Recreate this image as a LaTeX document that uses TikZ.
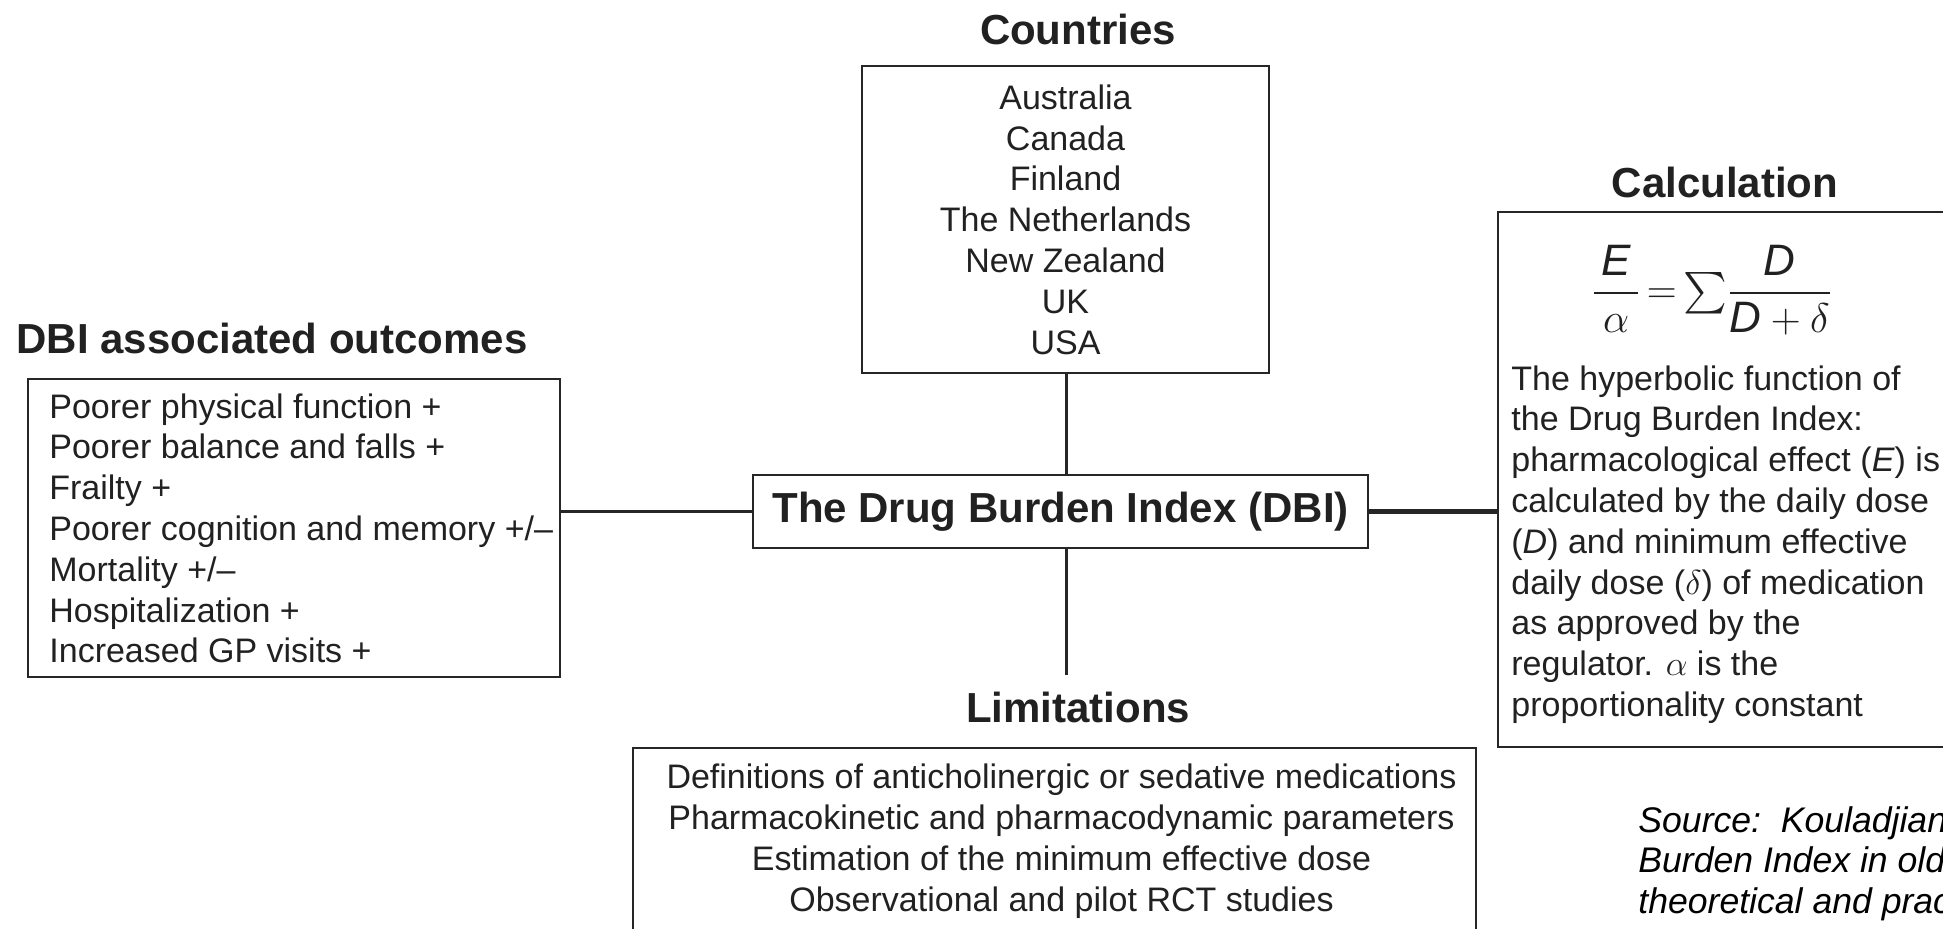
\documentclass[tikz,border=0pt]{standalone}
\usepackage{amsmath}
\usepackage{fontspec}
\setmainfont{Liberation Sans}
\definecolor{txt}{gray}{0.13}
\definecolor{ln}{gray}{0.15}
\tikzset{
  title/.style={font=\fontsize{21}{25}\selectfont\bfseries, text=txt, inner sep=0pt, anchor=base},
  body/.style={font=\fontsize{17}{20.4}\selectfont, text=txt},
  box/.style={draw=ln, line width=1pt, inner sep=0pt},
  conn/.style={draw=ln},
}
\begin{document}
\begin{tikzpicture}[x=0.5pt,y=-0.5pt]
\useasboundingbox (0,0) rectangle (1943,928);
\clip (0,0) rectangle (1943,928);
\fill[white] (0,0) rectangle (1943,928);

% titles
\node[title] (tcountries) at (1078,44) {Countries};
\node[title, anchor=base west] (toutcomes) at (16,353) {DBI associated outcomes};
\node[title] (tlimits) at (1078,722) {Limitations};
\node[title] (tcalc) at (1725,197) {Calculation};

% boxes
\node[box, body, align=center, minimum width=203.5pt, minimum height=153.5pt] (cbox) at (1065.5,219.5)
  {Australia\\Canada\\Finland\\The Netherlands\\New Zealand\\UK\\USA};

\node[box, font=\fontsize{21}{25}\selectfont\bfseries, text=txt, minimum width=307.5pt, minimum height=36.5pt] (dbi) at (1060.5,511.5)
  {The Drug Burden Index (DBI)};

\node[box, minimum width=266pt, minimum height=149pt] (obox) at (294,528) {};
\node[body, anchor=north west, align=left, inner sep=0pt] (otext) at (49,393)
  {Poorer physical function +\\Poorer balance and falls +\\Frailty +\\Poorer cognition and memory +/–\\Mortality +/–\\Hospitalization +\\Increased GP visits +};

\node[box, body, align=center, minimum width=421.5pt, minimum height=93pt] (lbox) at (1054.5,841)
  {\hspace*{7pt}Definitions of anticholinergic or sedative medications\\\hspace*{7pt}Pharmacokinetic and pharmacodynamic parameters\\\hspace*{7pt}Estimation of the minimum effective dose\\\hspace*{7pt}Observational and pilot RCT studies};

\node[box, minimum width=251pt, minimum height=267.5pt] (calc) at (1749,479.5) {};
\node[font=\fontsize{22}{26}\selectfont, text=txt, inner sep=0pt] (formula) at (1712,290)
  {$\thickmuskip=3mu\dfrac{\,\textit{E}\,}{\alpha}=\sum\!\dfrac{\textit{D}}{\textit{D}+\delta}$};
\node[body, anchor=north west, align=left, inner sep=0pt] (ctext) at (1511,365)
  {The hyperbolic function of\\the Drug Burden Index:\\pharmacological effect (\textit{E}) is\\calculated by the daily dose\\(\textit{D}) and minimum effective\\daily dose ($\delta$) of medication\\as approved by the\\regulator. $\alpha$ is the\\proportionality constant};

\node[font=\fontsize{17.8}{20.3}\selectfont\itshape, text=black, anchor=north west, align=left, inner sep=0pt] (source) at (1638,806)
  {Source:\ \ Kouladjian L\\Burden Index in older\\theoretical and practical};

% connectors
\coordinate (lend) at (1066,675);
\draw[conn, line width=1.5pt] (cbox.south -| lend) -- (dbi.north -| lend);
\draw[conn, line width=1.5pt] (dbi.south -| lend) -- (lend);
\draw[conn, line width=1.2pt] (dbi.west) -- (dbi.west -| obox.east);
\draw[conn, line width=2.5pt] (dbi.east) -- (dbi.east -| calc.west);
\end{tikzpicture}
\end{document}
